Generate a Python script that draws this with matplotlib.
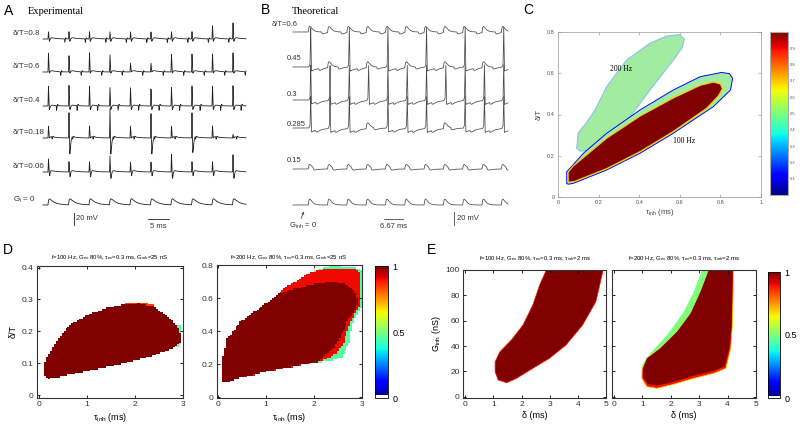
import numpy as np
import matplotlib
matplotlib.use("Agg")
import matplotlib.pyplot as plt
from matplotlib.path import Path
from matplotlib.colors import ListedColormap, Normalize
from matplotlib.cm import ScalarMappable

plt.rcParams['font.family'] = ['Liberation Sans', 'DejaVu Sans']
plt.rcParams['mathtext.fontset'] = 'custom'
plt.rcParams['mathtext.rm'] = 'Liberation Sans'
plt.rcParams['mathtext.it'] = 'Liberation Sans:italic'

# ================= DATA =================
# Panel A (experimental traces): per-event spike heights (mV)
A_labels = ["δ/T=0.8", "δ/T=0.6", "δ/T=0.4", "δ/T=0.18", "δ/T=0.06", "G$_\\mathrm{i}$ = 0"]
A_delay_frac = [0.8, 0.6, 0.4, 0.18, 0.06, 0.0]
A_period_ms = 5.0
A_up = [[10, 10, 10, 10, 10, 10, 10, 10, 20, 25],
        [30, 25, 30, 27, 13, 13, 28, 28, 28, 30],
        [32, 33, 32, 30, 30, 28, 30, 32, 32, 33],
        [18, 40, 18, 48, 18, 40, 18, 40, 18, 4],
        [20, 15, 15, 25, 15, 15, 28, 15, 15, 27],
        [0] * 10]
A_down = [[7] * 10,
          [5, 5, 5, 5, 3, 3, 5, 5, 5, 5],
          [8] * 10,
          [3, 30, 3, 30, 3, 30, 3, 28, 3, 3],
          [8, 10, 10, 13, 8, 8, 13, 8, 8, 13],
          [0] * 10]
A_psp = [3, 3, 2, 3, 3, 10]
A_inh = [6, 6, 8, 4, 3, 0]

# Panel B (theoretical traces): per-event peak (mV); >20 means a spike
B_labels = ["δ/T=0.6", "0.45", "0.3", "0.285", "0.15", "G$_\\mathrm{inh}$ = 0"]
B_delay_frac = [0.6, 0.45, 0.3, 0.285, 0.15, 0.0]
B_period_ms = 6.67
B_peak = [[9] * 11,
          [62, 9, 62, 9, 62, 9, 62, 9, 62, 9, 62],
          [55] * 11,
          [50, 50, 50, 9, 50, 50, 50, 9, 50, 50, 50],
          [7] * 11,
          [9] * 11]

# Panel C: region boundaries (tau_inh ms, delta/T)
C200_x = [0.092, 0.100, 0.140, 0.182, 0.240, 0.338, 0.453, 0.535, 0.600, 0.622, 0.612,
          0.568, 0.453, 0.355, 0.250, 0.158, 0.110]
C200_y = [0.236, 0.310, 0.360, 0.420, 0.535, 0.664, 0.745, 0.780, 0.787, 0.765, 0.725,
          0.664, 0.519, 0.389, 0.300, 0.228, 0.222]
C100_outer_x = [0.043, 0.043, 0.060, 0.125, 0.240, 0.404, 0.568, 0.700, 0.806, 0.845, 0.860,
                0.850, 0.765, 0.568, 0.404, 0.240, 0.075, 0.050]
C100_outer_y = [0.066, 0.123, 0.140, 0.212, 0.309, 0.422, 0.519, 0.583, 0.604, 0.598, 0.575,
                0.519, 0.438, 0.309, 0.212, 0.131, 0.066, 0.062]
C100_core_x = [0.050, 0.050, 0.075, 0.240, 0.404, 0.568, 0.700, 0.765, 0.800, 0.810, 0.790,
               0.732, 0.568, 0.404, 0.240, 0.080, 0.055]
C100_core_y = [0.075, 0.120, 0.150, 0.285, 0.392, 0.480, 0.541, 0.557, 0.548, 0.525, 0.490,
               0.430, 0.318, 0.220, 0.138, 0.075, 0.072]
C_cbar_ticks = [0.1, 0.2, 0.3, 0.4, 0.5, 0.6, 0.7, 0.8, 0.9]

# Panel D: regions (tau_inh ms, delta/T) with level values
D1_core_x = [0.135, 0.135, 0.24, 0.41, 0.65, 1.00, 1.41, 1.83, 2.10, 2.38, 2.66, 2.87, 2.95,
             2.94, 2.80, 2.31, 1.62, 0.93, 0.45, 0.20]
D1_core_y = [0.058, 0.105, 0.136, 0.178, 0.220, 0.250, 0.273, 0.286, 0.288, 0.278, 0.250,
             0.220, 0.190, 0.163, 0.147, 0.120, 0.094, 0.073, 0.058, 0.052]
D1_rim_x = [1.80, 2.00, 2.20, 2.40, 2.45, 2.20, 2.00, 1.80]
D1_rim_y = [0.287, 0.292, 0.292, 0.282, 0.270, 0.280, 0.282, 0.280]
D1_tip_x = [2.80, 2.90, 2.97, 2.97, 2.90, 2.80]
D1_tip_y = [0.158, 0.150, 0.170, 0.215, 0.222, 0.210]
D2_outer_x = [0.07, 0.07, 0.18, 0.46, 1.02, 1.44, 1.86, 2.10, 2.35, 2.84, 3.00, 3.00, 2.90,
              2.80, 2.75, 2.60, 2.35, 2.07, 1.72, 1.02, 0.32, 0.18]
D2_outer_y = [0.094, 0.215, 0.356, 0.457, 0.575, 0.672, 0.748, 0.776, 0.797, 0.792, 0.770,
              0.550, 0.500, 0.440, 0.336, 0.245, 0.222, 0.212, 0.195, 0.155, 0.105, 0.085]
D2_red_x = [0.07, 0.07, 0.18, 0.46, 1.02, 1.44, 1.86, 2.10, 2.35, 2.84, 2.98, 2.98, 2.85,
            2.72, 2.62, 2.45, 2.20, 2.07, 1.72, 1.02, 0.32, 0.18]
D2_red_y = [0.094, 0.215, 0.356, 0.457, 0.575, 0.672, 0.748, 0.770, 0.785, 0.780, 0.758,
            0.570, 0.500, 0.420, 0.330, 0.260, 0.225, 0.212, 0.195, 0.155, 0.105, 0.085]
D2_core_x = [0.07, 0.07, 0.18, 0.46, 1.02, 1.25, 1.50, 1.80, 2.07, 2.42, 2.70, 2.85, 2.92,
             2.88, 2.70, 2.55, 2.42, 2.20, 2.07, 1.72, 1.02, 0.32, 0.18]
D2_core_y = [0.094, 0.215, 0.356, 0.457, 0.575, 0.625, 0.650, 0.672, 0.690, 0.700, 0.680,
             0.640, 0.580, 0.540, 0.457, 0.370, 0.296, 0.240, 0.215, 0.197, 0.157, 0.107, 0.087]
D_levels = [0.45, 0.9, 1.0]

# Panel E: regions (delta ms, G_inh nS)
E1_x = [2.88, 4.90, 4.64, 4.17, 3.58, 2.99, 2.40, 1.82, 1.47, 1.17, 1.06, 1.06, 1.23, 1.64,
        2.05, 2.40, 2.64]
E1_y = [100, 100, 75, 56.6, 40.8, 30.3, 22.4, 14.5, 11, 13.2, 19.7, 27.6, 35.5, 44.8,
        56.6, 72.4, 88]
E2_outer_x = [3.11, 4.21, 4.17, 4.11, 3.94, 3.52, 2.81, 2.10, 1.51, 1.16, 0.98, 0.98, 1.28,
              1.87, 2.46, 2.81]
E2_outer_y = [100, 100, 56.6, 38.2, 22.4, 18.5, 14.5, 9.8, 6.6, 7.9, 14.5, 25, 34.3, 48.7,
              67, 82.9]
E2_red_x = [3.34, 4.21, 4.17, 4.11, 3.94, 3.52, 2.81, 2.10, 1.51, 1.16, 0.98, 0.99, 1.16,
            1.63, 2.22, 2.70, 3.05]
E2_red_y = [100, 100, 56.6, 38.2, 22.4, 18.5, 14.5, 9.8, 6.6, 7.9, 14.5, 22, 30.3, 38.2,
            51.3, 65.8, 83]
E2_core_x = [3.34, 4.18, 4.14, 4.07, 3.89, 3.49, 2.79, 2.09, 1.52, 1.19, 1.02, 1.02, 1.16,
             1.63, 2.22, 2.70, 3.05]
E2_core_y = [100, 100, 56.6, 39.0, 24.0, 20.3, 16.5, 11.7, 8.7, 10.0, 15.5, 22, 30.3, 38.2,
             51.3, 65.8, 83]

D_titles = ["f=100 Hz, G$_\\mathrm{ex}$ 80%, τ$_\\mathrm{ex}$=0.3 ms, G$_\\mathrm{inh}$=25 nS",
            "f=200 Hz, G$_\\mathrm{ex}$ 80%, τ$_\\mathrm{ex}$=0.3 ms, G$_\\mathrm{inh}$=25 nS"]
E_titles = ["f=100 Hz, G$_\\mathrm{ex}$ 80%, τ$_\\mathrm{ex}$=0.3 ms, τ$_\\mathrm{inh}$=2 ms",
            "f=200 Hz, G$_\\mathrm{ex}$ 80%, τ$_\\mathrm{ex}$=0.3 ms, τ$_\\mathrm{inh}$=2 ms"]

# ================= HELPERS =================
W, H = 800, 433
fig = plt.figure(figsize=(8, 4.33), dpi=100)


def axpx(l, t, r, b):
    return fig.add_axes([l / W, 1 - b / H, (r - l) / W, (b - t) / H])


def ft(x, y, s, **kw):
    fig.text(x / W, 1 - y / H, s, **kw)


def psp(tt, amp, rise, decay):
    out = np.zeros_like(tt)
    m = tt > 0
    tp = rise * decay / (decay - rise) * np.log(decay / rise)
    nrm = np.exp(-tp / decay) - np.exp(-tp / rise)
    out[m] = amp * (np.exp(-tt[m] / decay) - np.exp(-tt[m] / rise)) / nrm
    return out


jet = plt.get_cmap('jet')
jw = jet(np.linspace(0, 1, 256))
jw[:5] = [1, 1, 1, 1]
jet_white = ListedColormap(jw)

serif = ['Liberation Serif', 'DejaVu Serif']

# ================= PANEL A =================
a_x0, a_pxms, a_pxmv, a_yref = 48, 4.1, 0.6, 235
axA = axpx(0, 18, 262, 235)
axA.set_xlim((0 - a_x0) / a_pxms, (262 - a_x0) / a_pxms)
axA.set_ylim(0, (a_yref - 18) / a_pxmv)
axA.axis('off')
A_base_px = [39, 72, 106, 138, 172, 205]
tA = np.linspace((43 - a_x0) / a_pxms, (246 - a_x0) / a_pxms, 4000)
for i in range(6):
    v = np.zeros_like(tA)
    for k in range(len(A_up[i])):
        tt = tA - k * A_period_ms
        v += np.interp(tt, [0, 0.12, 0.32, 0.6, 0.9],
                       [0, A_up[i][k], -A_down[i][k], -0.3 * A_down[i][k], 0], left=0, right=0)
        v += psp(tt, A_psp[i], 0.15, 1.3)
        if A_inh[i] > 0:
            ti = tt - A_delay_frac[i] * A_period_ms
            v += np.interp(ti, [0, 0.1, 0.3, 0.6], [0, -A_inh[i], 0.3 * A_inh[i], 0], left=0, right=0)
    off = (a_yref - A_base_px[i]) / a_pxmv
    axA.plot(tA, v + off, color='#222222', lw=0.6)
    axA.text((13 - a_x0) / a_pxms, off + 9, A_labels[i], fontsize=5.8, color='#333333',
             ha='left', va='center')
sbx = (74 - a_x0) / a_pxms
axA.plot([sbx, sbx], [(a_yref - 225) / a_pxmv, (a_yref - 225) / a_pxmv + 20], color='#222222', lw=0.6)
axA.text(sbx + 0.5, (a_yref - 219) / a_pxmv, "20 mV", fontsize=5.5, color='#333333', va='center')
hbx = (148 - a_x0) / a_pxms
axA.plot([hbx, hbx + 5], [(a_yref - 219) / a_pxmv] * 2, color='#222222', lw=0.6)
axA.text(hbx + 2.5, (a_yref - 227) / a_pxmv, "5 ms", fontsize=5.5, color='#333333', ha='center', va='center')
ft(9, 11, "A", fontsize=10, va='center', ha='center')
ft(28, 12, "Experimental", fontsize=7.5, va='center', family=serif)

# ================= PANEL B =================
b_x0, b_pxms, b_pxmv, b_yref = 310, 2.894, 0.65, 235
axB = axpx(262, 18, 530, 235)
axB.set_xlim((262 - b_x0) / b_pxms, (530 - b_x0) / b_pxms)
axB.set_ylim(0, (b_yref - 18) / b_pxmv)
axB.axis('off')
B_base_px = [32, 67, 100, 128, 169, 205]
B_label_px = [(272, 25), (287, 58), (287, 94), (287, 125), (287, 161)]
tB = np.linspace((293 - b_x0) / b_pxms, (508 - b_x0) / b_pxms, 4000)
for i in range(6):
    v = np.zeros_like(tB)
    for k in range(len(B_peak[i])):
        tt = tB - k * B_period_ms
        P = B_peak[i][k]
        if P > 20:
            sp = np.interp(tt, [-0.4, 0.0, 0.25, 0.5], [0, 4, P, -6], left=0, right=0)
            m = tt > 0.5
            sp[m] = -6 * np.exp(-(tt[m] - 0.5) / 3.0)
            v += sp
        else:
            v += psp(tt + 0.6, P, 0.35, 0.8)
        if B_delay_frac[i] > 0:
            v -= psp(tt - B_delay_frac[i] * B_period_ms, 3.0, 0.3, 1.0)
    off = (b_yref - B_base_px[i]) / b_pxmv
    axB.plot(tB, v + off, color='#4a4a4a', lw=0.55)
for i in range(5):
    lx, ly = B_label_px[i]
    axB.text((lx - b_x0) / b_pxms, (b_yref - ly) / b_pxmv, B_labels[i], fontsize=5.5,
             color='#333333', ha='left', va='center')
axB.text((289 - b_x0) / b_pxms, (b_yref - 226) / b_pxmv, B_labels[5], fontsize=5.5,
         color='#333333', ha='left', va='center')
axB.annotate("", xy=((305 - b_x0) / b_pxms, (b_yref - 209) / b_pxmv),
             xytext=((300 - b_x0) / b_pxms, (b_yref - 221) / b_pxmv),
             arrowprops=dict(arrowstyle='->', lw=0.5, color='#333333', mutation_scale=4))
hb = (384 - b_x0) / b_pxms
axB.plot([hb, hb + B_period_ms], [(b_yref - 219) / b_pxmv] * 2, color='#444444', lw=0.6)
axB.text(hb + B_period_ms / 2, (b_yref - 227) / b_pxmv, "6.67 ms", fontsize=5.5, color='#333333',
         ha='center', va='center')
vb = (454 - b_x0) / b_pxms
axB.plot([vb, vb], [(b_yref - 225) / b_pxmv, (b_yref - 225) / b_pxmv + 20], color='#444444', lw=0.6)
axB.text(vb + 1.0, (b_yref - 219) / b_pxmv, "20 mV", fontsize=5.5, color='#333333', va='center')
ft(266, 10, "B", fontsize=10, va='center', ha='center')
ft(292, 12, "Theoretical", fontsize=7.5, va='center', family=serif)

# ================= PANEL C =================
axC = axpx(558, 32, 761, 197)
axC.set_xlim(0, 1)
axC.set_ylim(0, 0.8)
pale_green = '#a2eca2'
axC.fill(C200_x, C200_y, fc=pale_green, ec='#8ec4ea', lw=0.9, zorder=2)
axC.fill(C100_outer_x, C100_outer_y, fc=pale_green, ec=jet(0.13), lw=0.7, zorder=3)
axC.fill(C100_core_x, C100_core_y, fc=jet(1.0), ec=(1.0, 0.78, 0.0), lw=0.8, zorder=4)
axC.text(0.31, 0.62, "200 Hz", fontsize=5.5, family=serif, ha='center', va='center', zorder=5)
axC.text(0.62, 0.27, "100 Hz", fontsize=5.5, family=serif, ha='center', va='center', zorder=5)
axC.set_xticks([0, 0.2, 0.4, 0.6, 0.8, 1])
axC.set_xticklabels(["0", "0.2", "0.4", "0.6", "0.8", "1"])
axC.set_yticks([0, 0.2, 0.4, 0.6, 0.8])
axC.set_yticklabels(["0", "0.2", "0.4", "0.6", "0.8"])
axC.tick_params(direction='in', top=True, right=True, length=2.5, width=0.4, labelsize=4,
                labelcolor='#555555', color='#888888', pad=2.5)
for s in axC.spines.values():
    s.set_color('#999999')
    s.set_linewidth(0.5)
axC.set_xlabel("τ$_\\mathrm{inh}$ (ms)", fontsize=5.5, color='#444444', labelpad=1)
axC.set_ylabel("δ/T", fontsize=5.5, color='#444444', labelpad=3)
caxC = axpx(770, 32, 788, 195)
cbC = fig.colorbar(ScalarMappable(Normalize(0, 1), jet), cax=caxC, ticks=C_cbar_ticks)
cbC.ax.tick_params(labelsize=3, length=0, pad=1.5, labelcolor='#555555')
cbC.outline.set_edgecolor('#aaaaaa')
cbC.outline.set_linewidth(0.8)
ft(528, 10, "C", fontsize=10, va='center', ha='center')


# ================= PANEL D =================
def grid_layers(ax, xe, ye, layers):
    xc = 0.5 * (xe[:-1] + xe[1:])
    yc = 0.5 * (ye[:-1] + ye[1:])
    X, Y = np.meshgrid(xc, yc)
    pts = np.column_stack([X.ravel(), Y.ravel()])
    Z = np.full(X.size, np.nan)
    for xs, ys, val in layers:
        m = Path(np.column_stack([xs, ys])).contains_points(pts)
        Z[m] = val
    ax.pcolormesh(xe, ye, Z.reshape(X.shape), cmap=jet_white, vmin=0, vmax=1,
                  shading='flat', antialiased=False, rasterized=True)


def style_heat(ax):
    ax.tick_params(direction='in', top=True, right=True, length=2.5, width=0.6, labelsize=6,
                   labelcolor='#333333', pad=2.5)
    for s in ax.spines.values():
        s.set_linewidth(0.8)
        s.set_color('#333333')


axD1 = axpx(36.7, 265.7, 182.7, 397.7)
axD1.set_xlim(-0.04, 3.0)
axD1.set_ylim(-0.008, 0.406)
grid_layers(axD1, np.arange(0, 3.0001, 0.04), np.arange(0, 0.40001, 0.005),
            [(D1_tip_x, D1_tip_y, 0.45), (D1_rim_x, D1_rim_y, 0.85), (D1_core_x, D1_core_y, 1.0)])
axD1.set_xticks([0, 1, 2, 3])
axD1.set_yticks([0, 0.1, 0.2, 0.3, 0.4])
axD1.set_yticklabels(["0", "0.1", "0.2", "0.3", "0.4"])
style_heat(axD1)
axD1.set_xlabel("τ$_\\mathrm{inh}$ (ms)", fontsize=6.5, labelpad=2)
axD1.set_ylabel("δ/T", fontsize=6.5, labelpad=3)

axD2 = axpx(216.7, 264.5, 361.7, 398)
axD2.set_xlim(-0.035, 3.0)
axD2.set_ylim(-0.005, 0.805)
grid_layers(axD2, np.arange(0, 3.0001, 0.04), np.arange(0, 0.80001, 0.01),
            [(D2_outer_x, D2_outer_y, D_levels[0]), (D2_red_x, D2_red_y, D_levels[1]),
             (D2_core_x, D2_core_y, D_levels[2])])
axD2.set_xticks([0, 1, 2, 3])
axD2.set_yticks([0, 0.2, 0.4, 0.6, 0.8])
axD2.set_yticklabels(["0", "0.2", "0.4", "0.6", "0.8"])
style_heat(axD2)
axD2.set_xlabel("τ$_\\mathrm{inh}$ (ms)", fontsize=6.5, labelpad=2)

ft(110, 257.5, D_titles[0], fontsize=4.3, ha='center', va='center')
ft(289, 257.5, D_titles[1], fontsize=4.3, ha='center', va='center')
caxD = axpx(375, 266, 388, 398)
cbD = fig.colorbar(ScalarMappable(Normalize(0, 1), jet_white), cax=caxD, ticks=[0, 0.5, 1])
cbD.ax.set_yticklabels(["0", "0.5", "1"])
cbD.ax.tick_params(labelsize=6.5, length=0, pad=3)
cbD.outline.set_linewidth(0.6)
ft(8, 250, "D", fontsize=10, va='center', ha='center')

# ================= PANEL E =================
red = jet(0.89)
axE1 = axpx(463.3, 270, 606, 398)
axE1.set_xlim(-0.07, 5.0)
axE1.set_ylim(-1, 100)
axE1.fill(E1_x, E1_y, fc=jet(1.0), ec=red, lw=0.5)
axE1.set_xticks([0, 1, 2, 3, 4, 5])
axE1.set_yticks([0, 20, 40, 60, 80, 100])
style_heat(axE1)
axE1.set_xlabel("δ (ms)", fontsize=6.5, labelpad=2)
axE1.set_ylabel("G$_\\mathrm{inh}$ (nS)", fontsize=6.5, labelpad=2)

axE2 = axpx(612.3, 270, 756, 398)
axE2.set_xlim(-0.06, 5.0)
axE2.set_ylim(-1, 100)
axE2.fill(E2_outer_x, E2_outer_y, fc=jet(0.5), ec='none')
axE2.fill(E2_red_x, E2_red_y, fc=red, ec=(1.0, 0.85, 0.0), lw=0.5)
axE2.fill(E2_core_x, E2_core_y, fc=jet(1.0), ec='none')
axE2.set_xticks([0, 1, 2, 3, 4, 5])
axE2.set_yticks([0, 20, 40, 60, 80, 100])
axE2.set_yticklabels([])
style_heat(axE2)
axE2.set_xlabel("δ (ms)", fontsize=6.5, labelpad=2)

ft(535, 259, E_titles[0], fontsize=4.3, ha='center', va='center')
ft(684, 259, E_titles[1], fontsize=4.3, ha='center', va='center')
caxE = axpx(768, 272, 780, 398)
cbE = fig.colorbar(ScalarMappable(Normalize(0, 1), jet_white), cax=caxE, ticks=[0, 0.5, 1])
cbE.ax.set_yticklabels(["0", "0.5", "1"])
cbE.ax.tick_params(labelsize=6.5, length=0, pad=3)
cbE.outline.set_linewidth(0.6)
ft(432, 250, "E", fontsize=10, va='center', ha='center')

fig.savefig("out.png", dpi=100)
